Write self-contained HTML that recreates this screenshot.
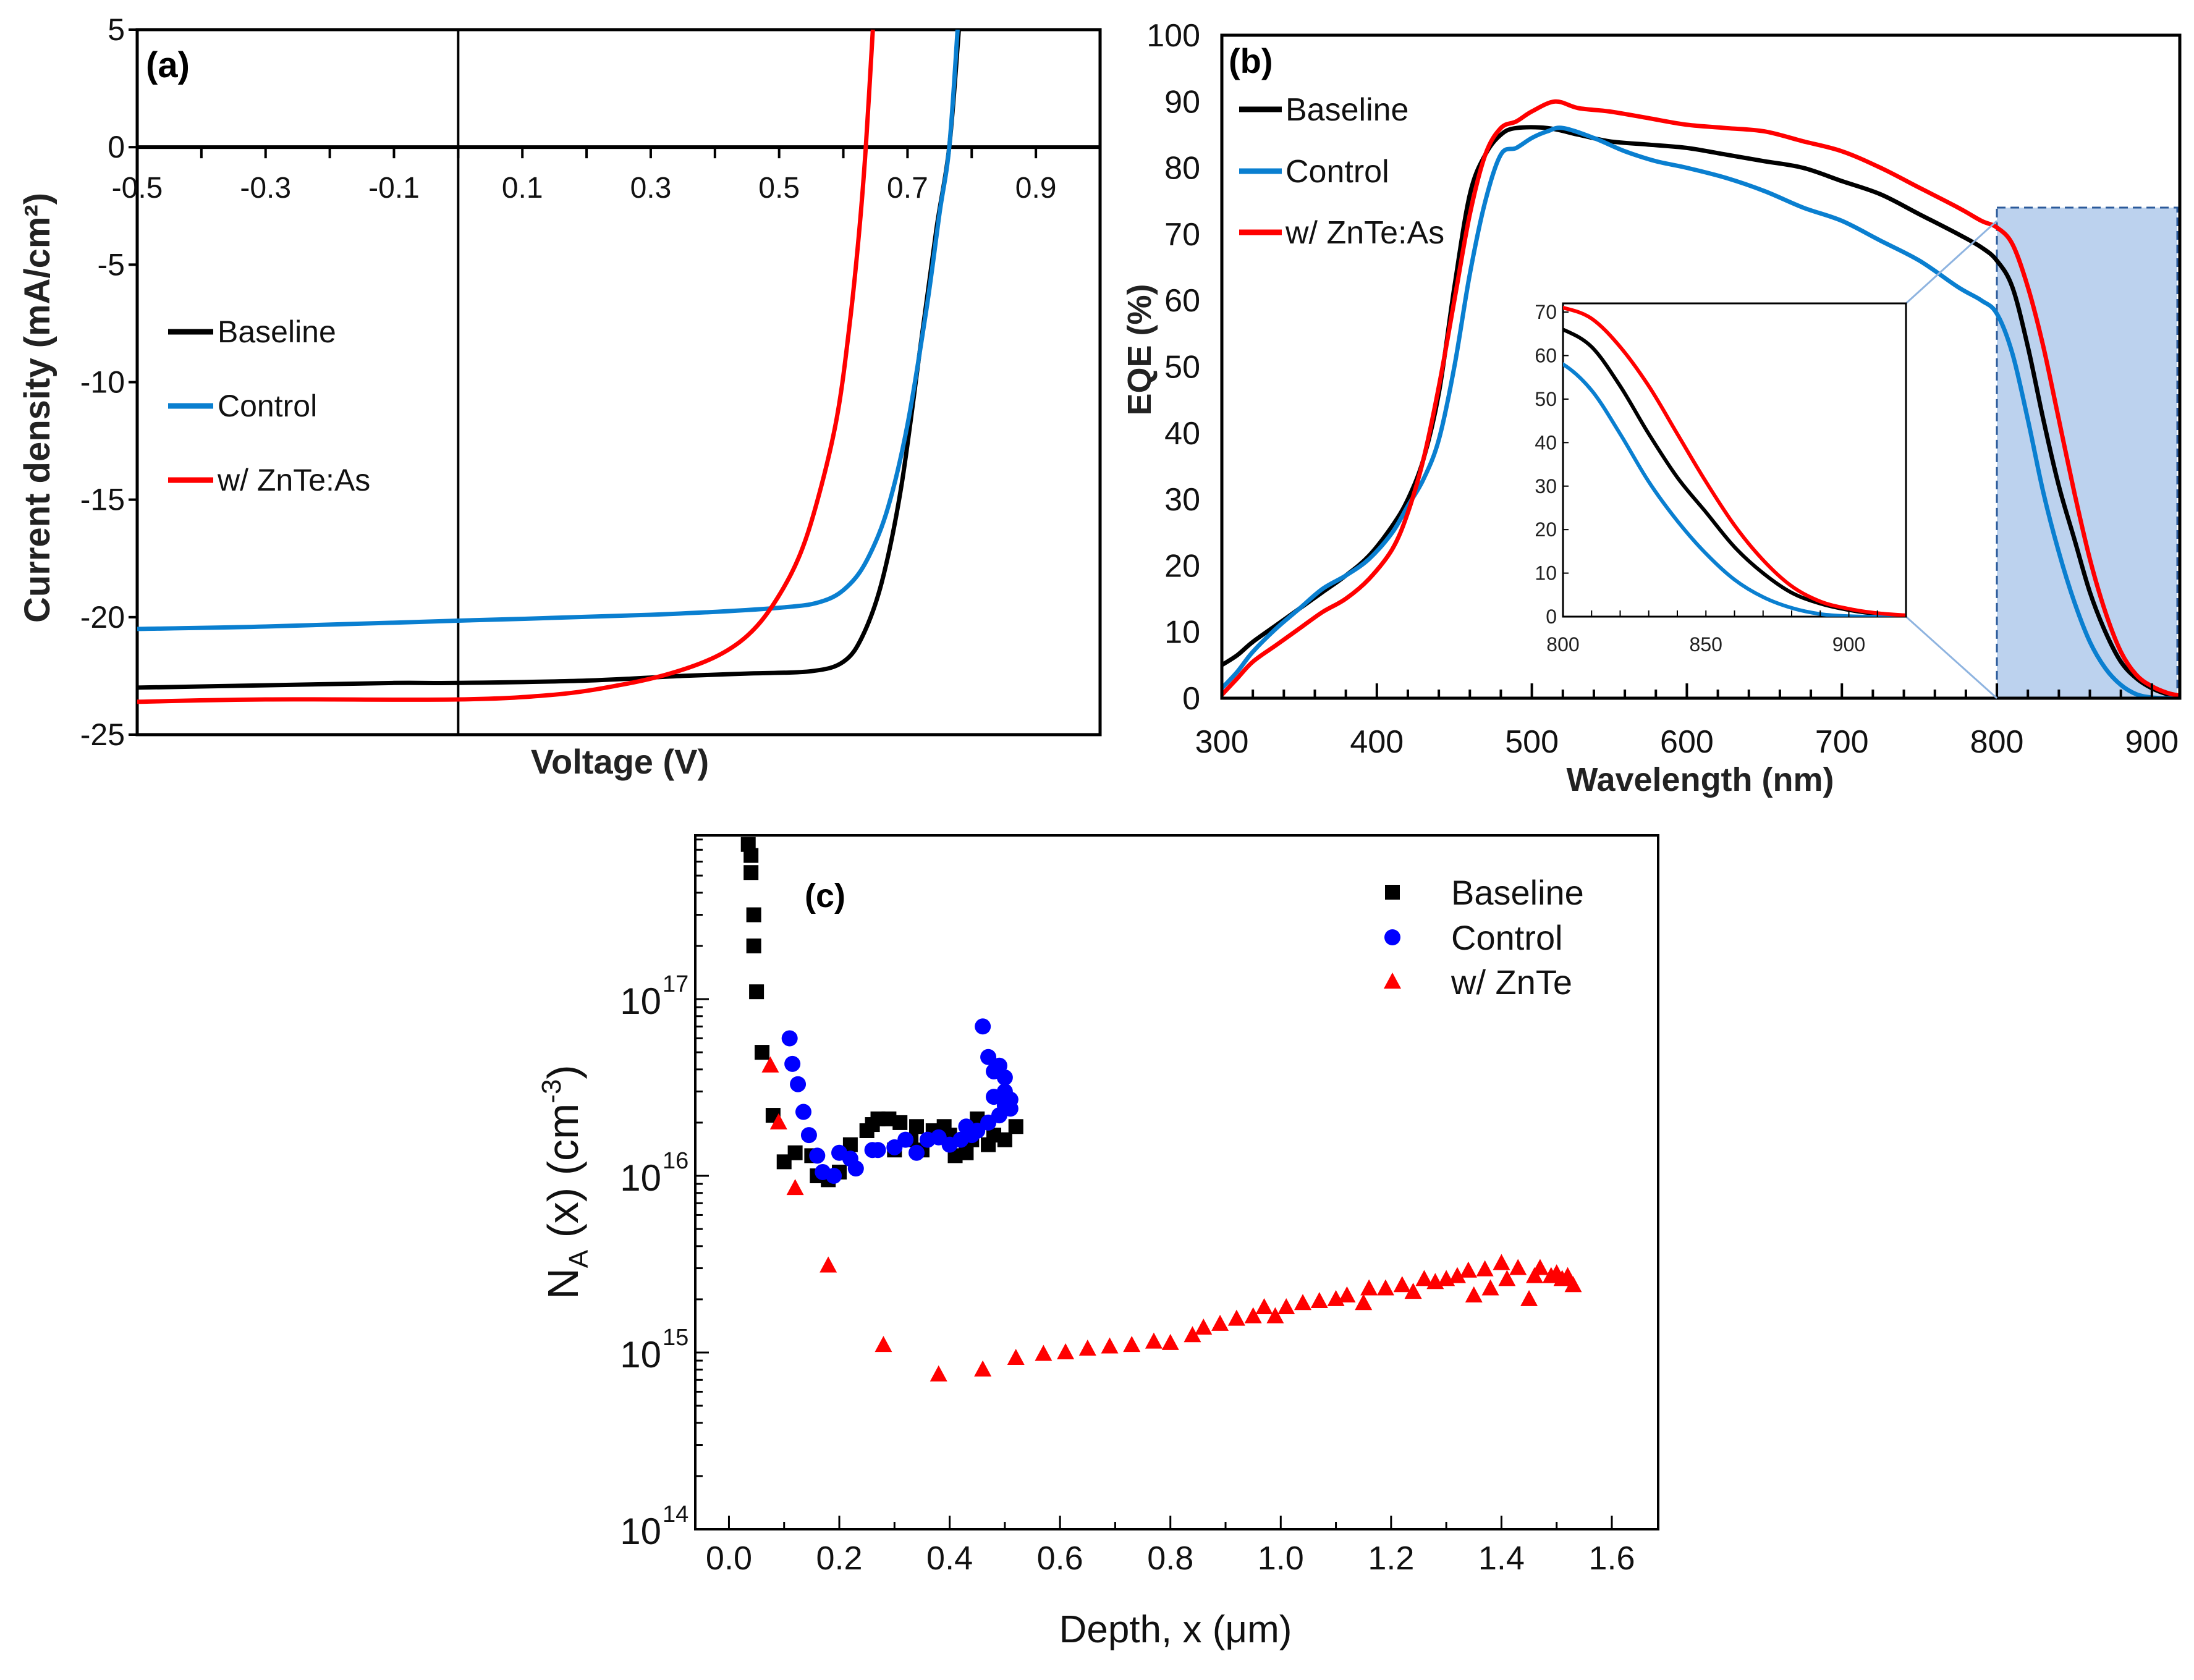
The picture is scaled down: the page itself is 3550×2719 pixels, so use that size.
<!DOCTYPE html>
<html><head><meta charset="utf-8"><style>
html,body{margin:0;padding:0;background:#fff;}
svg{display:block;font-family:"Liberation Sans",Arial,sans-serif;}
</style></head><body>
<svg id="fig" width="3550" height="2719" viewBox="0 0 3550 2719" xmlns="http://www.w3.org/2000/svg"></svg>
<script>
// ---------- Panel (a) data : J-V ----------
const jvBaseV=[-0.5,-0.3,-0.1,0,0.2,0.35,0.45,0.55,0.6,0.63,0.66,0.69,0.72,0.745,0.765,0.78];
const jvBaseJ=[-23.0,-22.9,-22.8,-22.8,-22.7,-22.5,-22.4,-22.3,-21.9,-20.8,-18.5,-14.5,-8.5,-3.5,0,5];
const jvCtrlV=[-0.5,-0.3,0,0.3,0.5,0.57,0.61,0.64,0.67,0.7,0.73,0.75,0.765,0.778];
const jvCtrlJ=[-20.5,-20.4,-20.15,-19.9,-19.6,-19.3,-18.6,-17.4,-15.3,-11.8,-6.8,-2.8,0,5];
const jvZnV=[-0.5,-0.3,0,0.15,0.25,0.33,0.4,0.45,0.49,0.53,0.56,0.59,0.61,0.625,0.635,0.646];
const jvZnJ=[-23.6,-23.5,-23.5,-23.3,-22.9,-22.4,-21.7,-20.8,-19.5,-17.5,-15,-11.5,-7.5,-3.5,0,5];
const jvXTicks=[-0.5,-0.3,-0.1,0.1,0.3,0.5,0.7,0.9];
const jvYTicks=[5,0,-5,-10,-15,-20,-25];
// ---------- Panel (b) data : EQE ----------
const eqeBaseW=[300,310,320,335,350,365,380,395,410,420,430,440,450,460,470,480,490,510,530,550,575,600,625,650,675,700,725,750,775,790,800,810,820,830,840,850,860,870,880,890,900,910,920];
const eqeBaseE=[5,6.5,8.5,11,13.5,16,18.5,21.5,26,30,36,46,62,76,82,85,86,86,85,84,83.5,83,82,81,80,78,76,73,70,68,66,62,53,42,32,24,16,10,5.5,3,1.5,0.6,0.2];
const eqeCtrlW=[300,310,320,335,350,365,380,395,410,420,430,440,450,460,470,480,490,500,510,520,540,560,580,600,625,650,675,700,725,750,775,790,800,810,820,830,840,850,860,870,880,890,900,910,920];
const eqeCtrlE=[1.5,4,7,10.5,13.5,16.5,18.5,21,25,29,33,39,50,64,75,82,83,84.5,85.5,86,84.5,82.5,81,80,78.5,76.5,74,72,69,66,62,60,58,52,42,31,22,14.5,8.5,4.5,2,0.6,0.1,0,0];
const eqeZnW=[300,310,320,335,350,365,380,395,410,420,430,440,450,460,470,480,490,500,515,530,550,575,600,625,650,675,700,725,750,775,790,800,810,820,830,840,850,860,870,880,890,900,910,920];
const eqeZnE=[0.5,3,5.5,8,10.5,13,15,18,22.5,28,36,47,60,73,82,86,87,88.5,90,89,88.5,87.5,86.5,86,85.5,84,82.5,80,77,74,72,71,68.5,62,53,42,31,21,13,7,3.5,1.8,0.8,0.3];
const eqeXTicks=[300,400,500,600,700,800,900];
const eqeYTicks=[0,10,20,30,40,50,60,70,80,90,100];
const insetXTicks=[800,850,900];
const insetYTicks=[0,10,20,30,40,50,60,70];
// ---------- Panel (c) data : N_A profile ----------
const naBaseX=[0.035,0.04,0.04,0.045,0.045,0.05,0.06,0.08,0.1,0.12,0.15,0.16,0.18,0.2,0.22,0.25,0.27,0.29,0.31,0.33,0.35,0.37,0.39,0.41,0.43,0.45,0.47,0.5,0.52,0.3,0.4,0.34,0.48,0.26,0.44];
const naBaseY=[7.5e17,6.5e17,5.2e17,3e17,2e17,1.1e17,5e16,2.2e16,1.2e16,1.35e16,1.3e16,1e16,0.95e16,1.05e16,1.5e16,1.8e16,2.1e16,2.1e16,2e16,1.6e16,1.4e16,1.8e16,1.9e16,1.3e16,1.35e16,2.1e16,1.5e16,1.6e16,1.9e16,1.4e16,1.7e16,1.9e16,1.7e16,1.95e16,1.6e16];
const naCtrlX=[0.11,0.115,0.125,0.135,0.145,0.16,0.17,0.19,0.2,0.22,0.23,0.26,0.27,0.3,0.32,0.34,0.36,0.38,0.4,0.42,0.44,0.46,0.47,0.48,0.49,0.5,0.5,0.51,0.51,0.49,0.47,0.45,0.43,0.5,0.48];
const naCtrlY=[6e16,4.3e16,3.3e16,2.3e16,1.7e16,1.3e16,1.05e16,1e16,1.35e16,1.25e16,1.1e16,1.4e16,1.4e16,1.45e16,1.6e16,1.35e16,1.6e16,1.65e16,1.5e16,1.6e16,1.7e16,7e16,4.7e16,3.9e16,4.2e16,3.6e16,3e16,2.7e16,2.4e16,2.2e16,2e16,1.8e16,1.9e16,2.5e16,2.8e16];
const naZnX=[0.075,0.09,0.12,0.18,0.28,0.38,0.46,0.52,0.57,0.61,0.65,0.69,0.73,0.77,0.8,0.84,0.86,0.89,0.92,0.95,0.97,0.99,1.01,1.04,1.07,1.1,1.12,1.15,1.16,1.19,1.22,1.24,1.26,1.28,1.3,1.32,1.34,1.35,1.37,1.38,1.4,1.41,1.43,1.45,1.46,1.47,1.49,1.5,1.51,1.52,1.53];
const naZnY=[4.2e16,2e16,8.5e15,3.1e15,1.1e15,7.5e14,8e14,9.3e14,9.8e14,1e15,1.05e15,1.08e15,1.1e15,1.15e15,1.13e15,1.25e15,1.38e15,1.45e15,1.55e15,1.6e15,1.8e15,1.6e15,1.8e15,1.9e15,1.95e15,2e15,2.1e15,1.9e15,2.3e15,2.3e15,2.4e15,2.2e15,2.6e15,2.5e15,2.6e15,2.7e15,2.9e15,2.1e15,2.95e15,2.3e15,3.2e15,2.6e15,3e15,2e15,2.7e15,3e15,2.7e15,2.8e15,2.6e15,2.7e15,2.4e15];
const naXTicks=[0.0,0.2,0.4,0.6,0.8,1.0,1.2,1.4,1.6];
const naYExp=[14,15,16,17];

const NS="http://www.w3.org/2000/svg";
const svg=document.getElementById('fig');
function el(tag,attrs,parent,txt){const e=document.createElementNS(NS,tag);for(const k in attrs)e.setAttribute(k,attrs[k]);if(txt!==undefined)e.textContent=txt;(parent||svg).appendChild(e);return e;}
function lin(d0,d1,r0,r1){return v=>r0+(v-d0)/(d1-d0)*(r1-r0);}
function smoothPath(pts){let d='M'+pts[0][0].toFixed(1)+','+pts[0][1].toFixed(1);for(let i=0;i<pts.length-1;i++){const p0=pts[Math.max(0,i-1)],p1=pts[i],p2=pts[i+1],p3=pts[Math.min(pts.length-1,i+2)];const c1=[p1[0]+(p2[0]-p0[0])/6,p1[1]+(p2[1]-p0[1])/6],c2=[p2[0]-(p3[0]-p1[0])/6,p2[1]-(p3[1]-p1[1])/6];d+='C'+c1[0].toFixed(1)+','+c1[1].toFixed(1)+' '+c2[0].toFixed(1)+','+c2[1].toFixed(1)+' '+p2[0].toFixed(1)+','+p2[1].toFixed(1);}return d;}

// ===== Panel A =====
const gA=el('g',{});


const ax={l:222,r:1780,t:48,b:1189};
const xA=lin(-0.5,1.0,ax.l,ax.r), yA=lin(5,-25,ax.t,ax.b);
const clipA=el('clipPath',{id:'clipA'},gA);el('rect',{x:ax.l,y:ax.t,width:ax.r-ax.l,height:ax.b-ax.t},clipA);
const frameA=el('rect',{x:ax.l,y:ax.t,width:ax.r-ax.l,height:ax.b-ax.t,fill:'none',stroke:'#000','stroke-width':5},gA);


const zeroA=el('line',{x1:ax.l,x2:ax.r,y1:yA(0),y2:yA(0),stroke:'#000','stroke-width':6},gA);


const vline=el('line',{x1:xA(0),x2:xA(0),y1:ax.t,y2:ax.b,stroke:'#000','stroke-width':4},gA);


for(let v=-0.5;v<=1.0001;v+=0.1){el('line',{x1:xA(v),x2:xA(v),y1:yA(0),y2:yA(0)+18,stroke:'#000','stroke-width':4},gA);}
jvXTicks.forEach(v=>{const t=el('text',{x:xA(v),y:yA(0)+82,'font-size':48,'text-anchor':'middle',fill:'#111'},gA,String(v));

});
jvYTicks.forEach(v=>{el('line',{x1:ax.l-14,x2:ax.l,y1:yA(v),y2:yA(v),stroke:'#000','stroke-width':4},gA);
const t=el('text',{x:ax.l-20,y:yA(v)+17,'font-size':50,'text-anchor':'end',fill:'#111'},gA,String(v));

});
const seriesA=[[jvBaseV,jvBaseJ,'#000','baseline'],[jvCtrlV,jvCtrlJ,'#0a7fd0','control'],[jvZnV,jvZnJ,'#ff0000','znte-as']];
seriesA.forEach(s=>{const pts=s[0].map((v,i)=>[xA(v),yA(s[1][i])]);const p=el('path',{d:smoothPath(pts),fill:'none',stroke:s[2],'stroke-width':7,'clip-path':'url(#clipA)'},gA);

});
const legA=[['Baseline','#000',537],['Control','#0a7fd0',657],['w/ ZnTe:As','#ff0000',777]];
legA.forEach(l=>{el('line',{x1:272,x2:345,y1:l[2],y2:l[2],stroke:l[1],'stroke-width':9},gA);
const t=el('text',{x:352,y:l[2]+17,'font-size':50,fill:'#111'},gA,l[0]);

});
let t=el('text',{x:236,y:125,'font-size':58,'font-weight':'bold'},gA,'(a)');


t=el('text',{x:1003,y:1252,'font-size':56,'font-weight':'bold','text-anchor':'middle',fill:'#222'},gA,'Voltage (V)');


t=el('text',{x:0,y:0,'font-size':58,'font-weight':'bold','text-anchor':'middle',fill:'#222',transform:'translate(80,660) rotate(-90)'},gA,'Current density (mA/cm²)');



// ===== Panel B =====
const gB=el('g',{});


const bx={l:1977,r:3527,t:57,b:1130};
const xB=lin(300,918,bx.l,bx.r), yB=lin(0,100,bx.b,bx.t);
const clipB=el('clipPath',{id:'clipB'},gB);el('rect',{x:bx.l,y:bx.t,width:bx.r-bx.l,height:bx.b-bx.t},clipB);
const shade=el('rect',{x:xB(800),y:yB(74),width:bx.r-xB(800)-4,height:yB(0)-yB(74),fill:'#bcd2ee',stroke:'#2b5a9a','stroke-width':3,'stroke-dasharray':'14,8'},gB);


const seriesB=[[eqeBaseW,eqeBaseE,'#000','baseline'],[eqeCtrlW,eqeCtrlE,'#0a7fd0','control'],[eqeZnW,eqeZnE,'#ff0000','znte-as']];
seriesB.forEach(s=>{const pts=s[0].map((v,i)=>[xB(v),yB(s[1][i])]);const p=el('path',{d:smoothPath(pts),fill:'none',stroke:s[2],'stroke-width':7,'clip-path':'url(#clipB)'},gB);

});
const frameB=el('rect',{x:bx.l,y:bx.t,width:bx.r-bx.l,height:bx.b-bx.t,fill:'none',stroke:'#000','stroke-width':5},gB);


for(let w=300;w<=918;w+=20){el('line',{x1:xB(w),x2:xB(w),y1:bx.b,y2:bx.b-(w%100===0?24:14),stroke:'#000','stroke-width':4},gB);}
eqeXTicks.forEach(v=>{const t=el('text',{x:xB(v),y:1218,'font-size':52,'text-anchor':'middle',fill:'#111'},gB,String(v));

});
eqeYTicks.forEach(v=>{const t=el('text',{x:1942,y:yB(v)+18,'font-size':52,'text-anchor':'end',fill:'#111'},gB,String(v));

});
const legB=[['Baseline','#000',177],['Control','#0a7fd0',277],['w/ ZnTe:As','#ff0000',376]];
legB.forEach(l=>{el('line',{x1:2005,x2:2074,y1:l[2],y2:l[2],stroke:l[1],'stroke-width':9},gB);
const t=el('text',{x:2080,y:l[2]+18,'font-size':52,fill:'#111'},gB,l[0]);

});
t=el('text',{x:1988,y:118,'font-size':56,'font-weight':'bold'},gB,'(b)');


t=el('text',{x:2751,y:1280,'font-size':54,'font-weight':'bold','text-anchor':'middle',fill:'#222'},gB,'Wavelength (nm)');


t=el('text',{x:0,y:0,'font-size':54,'font-weight':'bold','text-anchor':'middle',fill:'#222',transform:'translate(1862,566) rotate(-90)'},gB,'EQE (%)');


// inset
const ix={l:2529,r:3084,t:491,b:998};
const xI=lin(800,920,ix.l,ix.r), yI=lin(0,72,ix.b,ix.t);
el('line',{x1:ix.r,y1:ix.t,x2:xB(800),y2:yB(72),stroke:'#8fb4e0','stroke-width':3},gB);
el('line',{x1:ix.r,y1:ix.b,x2:xB(800),y2:yB(0),stroke:'#8fb4e0','stroke-width':3},gB);
const inset=el('rect',{x:ix.l,y:ix.t,width:ix.r-ix.l,height:ix.b-ix.t,fill:'#fff',stroke:'#000','stroke-width':3},gB);


const clipI=el('clipPath',{id:'clipI'},gB);el('rect',{x:ix.l,y:ix.t-6,width:ix.r-ix.l,height:ix.b-ix.t+6},clipI);
seriesB.forEach(s=>{const pts=[];s[0].forEach((v,i)=>{if(v>=790)pts.push([xI(v),yI(s[1][i])]);});const p=el('path',{d:smoothPath(pts),fill:'none',stroke:s[2],'stroke-width':6,'clip-path':'url(#clipI)'},gB);

});
for(let w=800;w<=920;w+=10){el('line',{x1:xI(w),x2:xI(w),y1:ix.b,y2:ix.b-10,stroke:'#000','stroke-width':2},gB);}
insetXTicks.forEach(v=>{const t=el('text',{x:xI(v),y:ix.b+56,'font-size':32,'text-anchor':'middle',fill:'#222'},gB,String(v));

});
insetYTicks.forEach(v=>{el('line',{x1:ix.l,x2:ix.l+9,y1:yI(v),y2:yI(v),stroke:'#000','stroke-width':2},gB);
const t=el('text',{x:ix.l-10,y:yI(v)+11,'font-size':32,'text-anchor':'end',fill:'#222'},gB,String(v));

});

// ===== Panel C =====
const gC=el('g',{});


const cx={l:1125,r:2683,t:1352,b:2475};
const xC=lin(-0.061,1.684,cx.l,cx.r);
const dec=286; const yC=v=>cx.b-(Math.log10(v)-14)*dec;
const frameC=el('rect',{x:cx.l,y:cx.t,width:cx.r-cx.l,height:cx.b-cx.t,fill:'none',stroke:'#000','stroke-width':4},gC);


for(let v=0;v<=1.61;v+=0.1){const maj=Math.round(v*10)%2===0;el('line',{x1:xC(v),x2:xC(v),y1:cx.b,y2:cx.b-(maj?22:12),stroke:'#000','stroke-width':3},gC);}
naXTicks.forEach(v=>{const t=el('text',{x:xC(v),y:2540,'font-size':54,'text-anchor':'middle',fill:'#111'},gC,v.toFixed(1));

});
naYExp.forEach(e=>{for(let m=1;m<10;m++){const yy=yC(m*Math.pow(10,e));if(yy<cx.t)break;el('line',{x1:cx.l,x2:cx.l+(m===1?22:12),y1:yy,y2:yy,stroke:'#000','stroke-width':3},gC);}
const t=el('text',{x:1070,y:yC(Math.pow(10,e))+24,'font-size':60,'text-anchor':'end',fill:'#111'},gC,'10');


const s=el('text',{x:1072,y:yC(Math.pow(10,e))-12,'font-size':38,'text-anchor':'start',fill:'#111'},gC,String(e));

});
naBaseX.forEach((v,i)=>{const r=el('rect',{x:xC(v)-12,y:yC(naBaseY[i])-12,width:24,height:24,fill:'#000'},gC);

});
naCtrlX.forEach((v,i)=>{const c=el('circle',{cx:xC(v),cy:yC(naCtrlY[i]),r:13,fill:'#0000ff'},gC);

});
naZnX.forEach((v,i)=>{const X=xC(v),Y=yC(naZnY[i]);const p=el('polygon',{points:`${X},${Y-15} ${X-14},${Y+11} ${X+14},${Y+11}`,fill:'#ff0000'},gC);

});
el('rect',{x:2241,y:1432,width:24,height:24,fill:'#000'},gC);
el('circle',{cx:2253,cy:1517,r:13,fill:'#0000ff'},gC);
el('polygon',{points:'2253,1574 2239,1600 2267,1600',fill:'#ff0000'},gC);
[['Baseline',1444],['Control',1517],['w/ ZnTe',1589]].forEach(l=>{const t=el('text',{x:2348,y:l[1]+20,'font-size':56,fill:'#111'},gC,l[0]);

});
t=el('text',{x:1302,y:1468,'font-size':54,'font-weight':'bold'},gC,'(c)');


t=el('text',{x:1902,y:2658,'font-size':62,'text-anchor':'middle',fill:'#111'},gC,'Depth, x (μm)');


const yt=el('text',{x:0,y:0,'font-size':70,'text-anchor':'middle',fill:'#111',transform:'translate(935,1913) rotate(-90)'},gC);


el('tspan',{},yt,'N');el('tspan',{'font-size':44,dy:16},yt,'A');el('tspan',{dy:-16},yt,' (x) (cm');el('tspan',{'font-size':44,dy:-28},yt,'-3');el('tspan',{dy:28},yt,')');
</script>
</body></html>
